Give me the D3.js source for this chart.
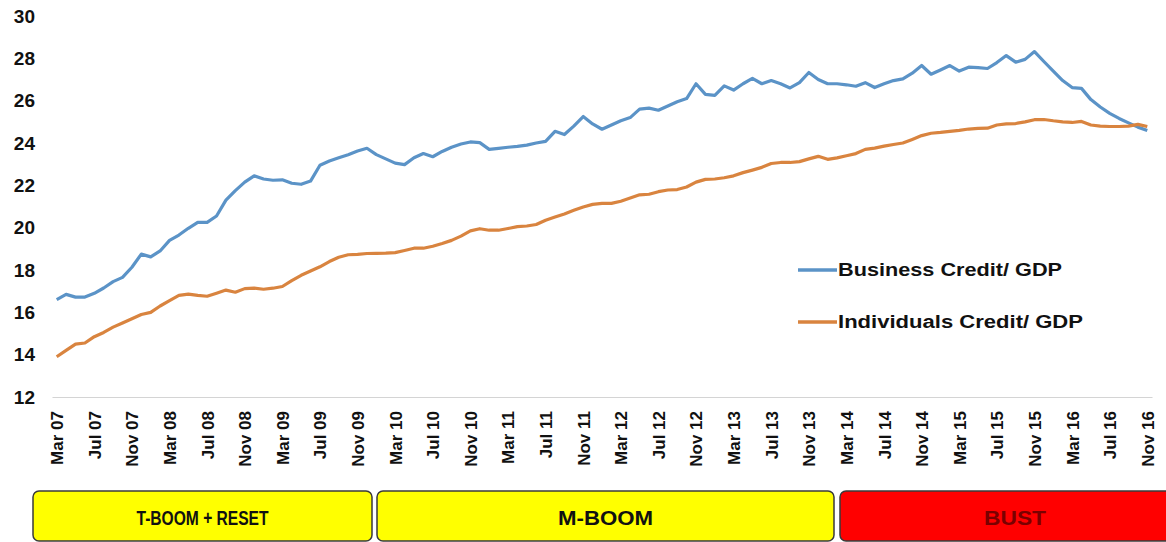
<!DOCTYPE html>
<html>
<head>
<meta charset="utf-8">
<script src="https://cdn.jsdelivr.net/npm/d3@7"></script>
<style>
  html, body { margin: 0; padding: 0; background: #fff; }
  svg { display: block; font-family: "Liberation Sans", Arial, sans-serif; }
</style>
</head>
<body>
<svg id="chart" width="1166" height="542"></svg>
<script>
// Monthly observations, Mar 2007 .. Nov 2016 (117 months)
const business = [
  16.6, 16.85, 16.72, 16.72, 16.9, 17.15, 17.45, 17.65, 18.13, 18.75,
  18.62, 18.9, 19.4, 19.65, 19.97, 20.25, 20.25, 20.55, 21.3, 21.75,
  22.15, 22.45, 22.3, 22.24, 22.26, 22.1, 22.05, 22.2, 22.95, 23.15,
  23.3, 23.45, 23.62, 23.75, 23.45, 23.25, 23.05, 22.98, 23.3, 23.5,
  23.35, 23.6, 23.8, 23.95, 24.05, 24.02, 23.7, 23.75, 23.8, 23.84,
  23.9, 24.0, 24.08, 24.55, 24.4, 24.8, 25.25, 24.9, 24.65, 24.85,
  25.05, 25.2, 25.6, 25.65, 25.55, 25.75, 25.95, 26.1, 26.8, 26.3,
  26.25, 26.7, 26.5, 26.8, 27.05, 26.8, 26.95, 26.8, 26.6, 26.85,
  27.33, 27.0, 26.8, 26.8, 26.75, 26.68, 26.85, 26.62, 26.8, 26.95,
  27.03, 27.3, 27.66, 27.25, 27.45, 27.66, 27.4, 27.58, 27.56, 27.52,
  27.8, 28.13, 27.82, 27.95, 28.32, 27.85, 27.4, 26.95, 26.62, 26.58,
  26.05, 25.7, 25.4, 25.16, 24.95, 24.75, 24.59
];
const individuals = [
  13.9, 14.2, 14.5, 14.55, 14.85, 15.05, 15.3, 15.5, 15.7, 15.9,
  16.0, 16.3, 16.55, 16.8, 16.86, 16.8, 16.76, 16.9, 17.05, 16.95,
  17.12, 17.14, 17.09, 17.14, 17.22, 17.5, 17.75, 17.95, 18.15, 18.4,
  18.6, 18.72, 18.74, 18.78, 18.79, 18.8, 18.82, 18.92, 19.03, 19.03,
  19.12, 19.25, 19.4, 19.6, 19.85, 19.95, 19.88, 19.88, 19.96, 20.05,
  20.08, 20.15, 20.35, 20.5, 20.65, 20.82, 20.98, 21.1, 21.15, 21.15,
  21.25, 21.4, 21.55, 21.58, 21.7, 21.78, 21.8, 21.92, 22.15, 22.28,
  22.3, 22.36, 22.45, 22.6, 22.72, 22.85, 23.03, 23.08, 23.08, 23.12,
  23.25, 23.37, 23.23, 23.3, 23.4, 23.5, 23.7, 23.76, 23.85, 23.93,
  24.0, 24.17, 24.35, 24.46, 24.5, 24.55, 24.6, 24.66, 24.69, 24.7,
  24.85, 24.9, 24.92, 25.0, 25.1, 25.11, 25.05, 25.0, 24.97, 25.02,
  24.85, 24.8, 24.78, 24.78, 24.8, 24.88, 24.78
];
// Tick labels, one every 4 months
const tickLabels = [
  "Mar 07","Jul 07","Nov 07","Mar 08","Jul 08","Nov 08","Mar 09","Jul 09","Nov 09",
  "Mar 10","Jul 10","Nov 10","Mar 11","Jul 11","Nov 11","Mar 12","Jul 12","Nov 12",
  "Mar 13","Jul 13","Nov 13","Mar 14","Jul 14","Nov 14","Mar 15","Jul 15","Nov 15",
  "Mar 16","Jul 16","Nov 16"
];
const yTicks = [12, 14, 16, 18, 20, 22, 24, 26, 28, 30];
const seriesNames = ["Business Credit/ GDP", "Individuals Credit/ GDP"];
const seriesColors = ["#5b93c7", "#d9843f"];
const phaseNames = ["T-BOOM + RESET", "M-BOOM", "BUST"];
const phaseColors = ["#ffff00", "#ffff00", "#ff0000"];
const phaseTextColors = ["#111", "#111", "#7a0000"];

const svg = d3.select("#chart");
const idx = d3.range(business.length);

const x = d3.scalePoint().domain(idx).range([52, 1152]).padding(0.5);
const y = d3.scaleLinear().domain([12, 30]).range([397, 16]);

// X axis
const xAxis = d3.axisBottom(x)
  .tickValues(idx.filter(i => i % 4 === 0))
  .tickFormat(i => tickLabels[i / 4])
  .tickSize(0);
const gx = svg.append("g").attr("transform", `translate(0,${y(12)})`).call(xAxis);
gx.select(".domain").attr("stroke", "#d4d4d4").attr("stroke-width", 1.2);
gx.selectAll("text")
  .attr("transform", "rotate(-90)")
  .attr("text-anchor", "end")
  .attr("x", -14)
  .attr("y", 0)
  .attr("dy", "0.35em")
  .attr("fill", "#111")
  .style("font-size", "17px")
  .style("font-weight", "bold");

// Y axis
const yAxis = d3.axisLeft(y).tickValues(yTicks).tickSize(0).tickPadding(0);
const gy = svg.append("g").attr("transform", "translate(35,0)").call(yAxis);
gy.select(".domain").remove();
gy.selectAll("text")
  .attr("fill", "#111")
  .style("font-size", "19px")
  .style("font-weight", "bold");

// Lines
const line = d3.line().x((d, i) => x(i)).y(d => y(d));
[business, individuals].forEach((s, k) => {
  svg.append("path")
    .datum(s)
    .attr("fill", "none")
    .attr("stroke", seriesColors[k])
    .attr("stroke-width", 3.2)
    .attr("stroke-linejoin", "round")
    .attr("d", line);
});

// Legend
const legend = svg.append("g");
seriesNames.forEach((name, k) => {
  const ly = 270 + k * 52;
  legend.append("line")
    .attr("x1", 798).attr("x2", 837).attr("y1", ly).attr("y2", ly)
    .attr("stroke", seriesColors[k]).attr("stroke-width", 3.5);
  legend.append("text")
    .attr("x", 838).attr("y", ly).attr("dy", "0.36em")
    .attr("fill", "#111")
    .style("font-size", "18px").style("font-weight", "bold")
    .attr("textLength", k === 0 ? 224 : 245)
    .attr("lengthAdjust", "spacingAndGlyphs")
    .text(name);
});

// Phase boxes
const boxes = [[33, 372], [377, 834], [840, 1180]];
const boxTop = 491, boxBottom = 541;
const textLens = [132, 95, 62];
phaseNames.forEach((p, k) => {
  const [x0, x1] = boxes[k];
  svg.append("rect")
    .attr("x", x0).attr("y", boxTop)
    .attr("width", x1 - x0).attr("height", boxBottom - boxTop)
    .attr("rx", 6).attr("ry", 6)
    .attr("fill", phaseColors[k])
    .attr("stroke", "#3a3a3a").attr("stroke-width", 1.5);
  const cx = k === 2 ? 1015 : (x0 + x1) / 2;
  svg.append("text")
    .attr("x", cx).attr("y", (boxTop + boxBottom) / 2 + 1).attr("dy", "0.36em")
    .attr("text-anchor", "middle")
    .attr("fill", phaseTextColors[k])
    .style("font-size", "21px").style("font-weight", "bold")
    .attr("textLength", textLens[k])
    .attr("lengthAdjust", "spacingAndGlyphs")
    .text(p);
});
</script>
</body>
</html>
